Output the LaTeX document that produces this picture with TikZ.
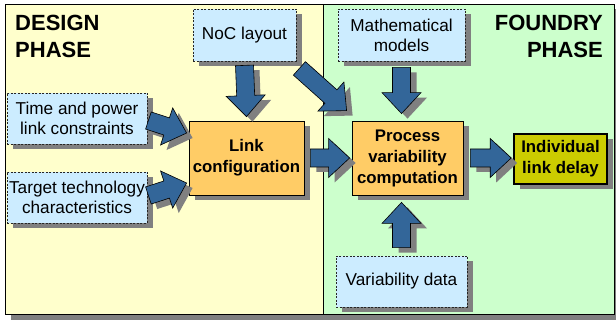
\documentclass[tikz,border=0pt]{standalone}
\usepackage{fontspec}
\setmainfont{Liberation Sans}
\usetikzlibrary{calc,shadows}
\definecolor{bgyellow}{HTML}{FFFFCC}
\definecolor{bggreen}{HTML}{CCFFCC}
\definecolor{boxblue}{HTML}{CCECFF}
\definecolor{boxorange}{HTML}{FFCC66}
\definecolor{boxolive}{HTML}{CCCC00}
\definecolor{arrowblue}{HTML}{336699}
\definecolor{shadowgray}{HTML}{808080}
\tikzset{
  shade/.style={drop shadow={shadow xshift=6pt,shadow yshift=-5pt,fill=shadowgray,opacity=1}},
  inbox/.style={shade, draw=black!85, dash pattern=on 2pt off 1.5pt, line width=0.8pt,
    fill=boxblue, font=\fontsize{17.2}{20}\selectfont, align=center, inner sep=1pt},
  procbox/.style={shade, draw=black, line width=0.8pt, fill=boxorange,
    font=\bfseries\fontsize{16.8}{21}\selectfont, align=center, inner sep=1pt},
  outbox/.style={shade, draw=black, line width=1.6pt, fill=boxolive,
    font=\bfseries\fontsize{16.8}{21}\selectfont, align=center, inner sep=1pt},
  phase/.style={font=\bfseries\fontsize{22}{27}\selectfont, inner sep=0pt},
  blockarrow/.style={shade, fill=arrowblue, draw=black, line width=0.6pt, line join=miter,
    to path={let \p1=(\tikztostart), \p2=(\tikztotarget),
      \n1={veclen(\x2-\x1,\y2-\y1)}, \n2={(\x2-\x1)/\n1}, \n3={(\y2-\y1)/\n1}, \n4={\n1-21} in
      ({\x1-9*\n3*1pt},{\y1+9*\n2*1pt})
      -- ({\x1+\n4*\n2*1pt-9*\n3*1pt},{\y1+\n4*\n3*1pt+9*\n2*1pt})
      -- ({\x1+\n4*\n2*1pt-19.5*\n3*1pt},{\y1+\n4*\n3*1pt+19.5*\n2*1pt})
      -- (\p2)
      -- ({\x1+\n4*\n2*1pt+19.5*\n3*1pt},{\y1+\n4*\n3*1pt-19.5*\n2*1pt})
      -- ({\x1+\n4*\n2*1pt+9*\n3*1pt},{\y1+\n4*\n3*1pt-9*\n2*1pt})
      -- ({\x1+9*\n3*1pt},{\y1-9*\n2*1pt}) -- cycle}}
}
\begin{document}
\begin{tikzpicture}[x=1pt,y=-1pt]
\useasboundingbox (0,0) rectangle (616,320);
% panels
\fill[shadowgray] (11,9) rectangle (621,321);
\draw[fill=bgyellow, line width=0.8pt] (5,4) rectangle (323,314);
\draw[fill=bggreen, line width=0.8pt] (323,4) rectangle (614,314);
% titles
\node[phase, anchor=base west] (d1) at (15,31) {DESIGN};
\node[phase, anchor=base west] (d2) at (15,58) {PHASE};
\node[phase, anchor=base east] (f1) at (603,31) {FOUNDRY};
\node[phase, anchor=base east] (f2) at (603,58) {PHASE};
% boxes
\node[inbox, minimum width=103pt, minimum height=52pt] (noc) at (244.5,35) {NoC layout};
\node[inbox, minimum width=140pt, minimum height=51pt] (tp) at (77,118.5) {Time and power\\link constraints};
\node[inbox, minimum width=140pt, minimum height=51pt] (tt) at (77,197.5) {Target technology\\characteristics};
\node[procbox, minimum width=115pt, minimum height=74pt] (link) at (246.5,158) {Link\\configuration};
\node[inbox, minimum width=127pt, minimum height=52pt] (mm) at (401.5,35) {Mathematical\\models};
\node[procbox, minimum width=111pt, minimum height=74pt] (pv) at (407.5,158) {Process\\variability\\computation};
\node[outbox, minimum width=93pt, minimum height=50pt] (ild) at (560.5,159) {Individual\\link delay};
\node[inbox, minimum width=131pt, minimum height=51pt] (vd) at (401.5,281.5) {Variability data};
% arrows
\draw[blockarrow] ($(noc.south)+(0,4)$) to ($(link.north)+(0,-4)$);
\draw[blockarrow] ($(tp.east)+(1,2)$) to ($(link.west)+(-2,-25)$);
\draw[blockarrow] ($(tt.east)+(1,-2)$) to ($(link.west)+(-2,25)$);
\draw[blockarrow] ($(noc.south east)+(3,7)$) to ($(pv.north west)+(-5,-10)$);
\draw[blockarrow] ($(link.east)+(6,0)$) to ($(pv.west)+(-2,0)$);
\draw[blockarrow] ($(mm.south)+(0,6)$) to ($(mm.south |- pv.north)+(0,-7)$);
\draw[blockarrow] ($(vd.north)+(0,-8)$) to ($(vd.north |- pv.south)+(0,7)$);
\draw[blockarrow] ($(pv.east)+(7,0)$) to ($(ild.west)+(-2,-1)$);
\end{tikzpicture}
\end{document}
